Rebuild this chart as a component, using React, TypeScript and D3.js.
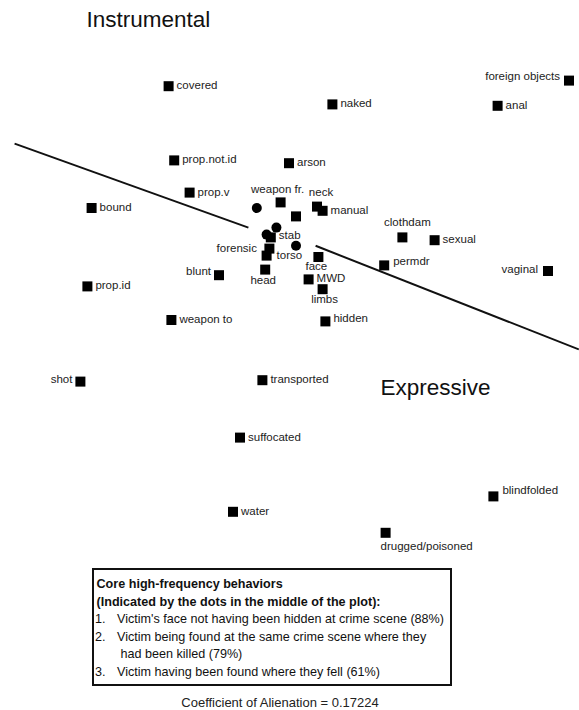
import React from 'react';
import * as d3 from 'd3';

const W = 579;
const H = 710;

// MDS item labels and coordinates (arbitrary MDS units)
const itemNames = [
  'covered', 'naked', 'foreign objects', 'anal', 'prop.not.id', 'arson', 'prop.v', 'bound',
  'weapon fr.', 'neck', 'manual', '', 'stab', 'forensic', 'torso', 'face', 'head', 'blunt',
  'MWD', 'limbs', 'clothdam', 'sexual', 'permdr', 'vaginal', 'prop.id', 'weapon to', 'hidden',
  'shot', 'transported', 'suffocated', 'blindfolded', 'water', 'drugged/poisoned',
];
const itemX = [
  -0.91, 0.26, 1.95, 1.44, -0.87, -0.05, -0.76, -1.46,
  -0.11, 0.15, 0.19, 0.0, -0.18, -0.19, -0.21, 0.16, -0.22, -0.55,
  0.09, 0.19, 0.76, 0.99, 0.63, 1.8, -1.49, -0.89, 0.21,
  -1.54, -0.24, -0.4, 1.41, -0.45, 0.64,
];
const itemY = [
  1.17, 1.04, 1.21, 1.03, 0.64, 0.62, 0.41, 0.3,
  0.34, 0.31, 0.28, 0.24, 0.09, 0.01, -0.04, -0.05, -0.14, -0.18,
  -0.21, -0.28, 0.09, 0.07, -0.11, -0.15, -0.26, -0.5, -0.51,
  -0.94, -0.93, -1.34, -1.76, -1.87, -2.02,
];

// core high-frequency behaviours (dots)
const coreX = [-0.28, -0.14, -0.21, 0.0];
const coreY = [0.3, 0.16, 0.11, 0.03];

// partition line segments
const partitionLeft: [number, number][] = [[-2.01, 0.76], [-0.34, 0.16]];
const partitionRight: [number, number][] = [[0.14, 0.03], [2.02, -0.71]];

const regionNames = ['Instrumental', 'Expressive'];

const boxTitleLines = ['Core high-frequency behaviors', '(Indicated by the dots in the middle of the plot):'];
const coreBehaviors = [
  ["Victim's face not having been hidden at crime scene (88%)"],
  ['Victim being found at the same crime scene where they', 'had been killed (79%)'],
  ['Victim having been found where they fell (61%)'],
];
const coefficientText = 'Coefficient of Alienation = 0.17224';

// label placement: [anchor, dx, dy]
const labelPlacement: Record<string, [string, number, number]> = {
  'foreign objects': ['end', -9, -1],
  vaginal: ['end', -10, 2],
  shot: ['end', -8, 1.5],
  blunt: ['end', -8, 0],
  forensic: ['end', -12.5, 3.7],
  permdr: ['start', 9, 0],
  hidden: ['start', 8, 1],
  blindfolded: ['start', 9, -2],
  stab: ['start', 8, 1.3],
  torso: ['start', 10, 3.3],
  'weapon fr.': ['middle', -3, -9.7],
  neck: ['middle', 4, -11],
  face: ['middle', -2, 13],
  head: ['middle', -2, 14],
  limbs: ['middle', 2, 14],
  clothdam: ['middle', 5, -11],
  'drugged/poisoned': ['start', -5, 17],
};

const FONT = '"Liberation Sans", Arial, Helvetica, sans-serif';

export default function App() {
  const x = d3.scaleLinear().domain([-2.1, 2.0]).range([2, 576]);
  const y = d3.scaleLinear().domain([1.8, -2.2]).range([-2, 558]);
  const line = d3
    .line<[number, number]>()
    .x((d) => x(d[0]))
    .y((d) => y(d[1]));
  const sq = 10;

  const lineStep = 17.6;
  let row = 0;
  const boxRows: React.ReactNode[] = [];
  boxTitleLines.forEach((t, i) => {
    boxRows.push(
      <text key={'t' + i} x={96.5} y={588 + row * lineStep} fontWeight="bold">
        {t}
      </text>
    );
    row++;
  });
  coreBehaviors.forEach((lines, i) => {
    lines.forEach((t, j) => {
      const yy = 588 + row * lineStep;
      if (j === 0) {
        boxRows.push(
          <text key={'n' + i} x={95} y={yy}>
            {i + 1}.
          </text>
        );
      }
      boxRows.push(
        <text key={'b' + i + '_' + j} x={j === 0 ? 117 : 120.5} y={yy}>
          {t}
        </text>
      );
      row++;
    });
  });

  return (
    <svg
      width={W}
      height={H}
      style={{ position: 'absolute', left: 0, top: 0, background: '#fff' }}
      fontFamily={FONT}
    >
      <rect x={0} y={0} width={W} height={H} fill="#fff" />
      <text x={86.5} y={27} fontSize={22.5} fill="#111">
        {regionNames[0]}
      </text>
      <text x={380.5} y={394.5} fontSize={22.5} fill="#111">
        {regionNames[1]}
      </text>

      <path d={line(partitionLeft) || ''} stroke="#111" strokeWidth={2} fill="none" />
      <path d={line(partitionRight) || ''} stroke="#111" strokeWidth={2} fill="none" />

      {coreX.map((cx, i) => (
        <circle key={'c' + i} cx={x(cx)} cy={y(coreY[i])} r={5} fill="#000" />
      ))}

      {itemNames.map((name, i) => {
        const px = x(itemX[i]);
        const py = y(itemY[i]);
        const place = labelPlacement[name] || ['start', 8, 3];
        return (
          <g key={'s' + i}>
            <rect x={px - sq / 2} y={py - sq / 2} width={sq} height={sq} fill="#000" />
            {name && (
              <text
                x={px + place[1]}
                y={py + place[2]}
                textAnchor={place[0] as any}
                fontSize={11.5}
                fill="#222"
              >
                {name}
              </text>
            )}
          </g>
        );
      })}

      <rect x={93} y={569} width={358} height={116} fill="none" stroke="#111" strokeWidth={2} />
      <g fontSize={12.6} fill="#111">
        {boxRows}
      </g>
      <text x={280} y={707} textAnchor="middle" fontSize={13} fill="#222">
        {coefficientText}
      </text>
    </svg>
  );
}
